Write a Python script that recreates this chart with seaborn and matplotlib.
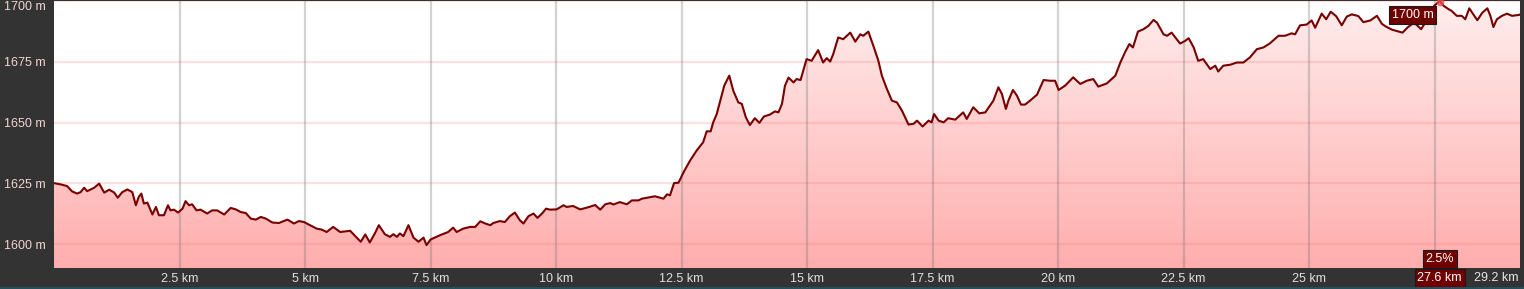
import numpy as np
import matplotlib
matplotlib.use("Agg")
import matplotlib.pyplot as plt
import seaborn as sns
from matplotlib.patches import Polygon, Rectangle

distance_km = [
    0.00, 0.13, 0.26, 0.36, 0.46, 0.53, 0.60, 0.66, 0.80, 0.90, 1.00, 1.10, 1.20, 1.27, 1.36, 1.46,
    1.56, 1.63, 1.69, 1.74, 1.79, 1.86, 1.96, 2.03, 2.09, 2.19, 2.27, 2.32, 2.39, 2.47, 2.56, 2.62,
    2.69, 2.75, 2.84, 2.92, 3.05, 3.15, 3.25, 3.39, 3.52, 3.62, 3.72, 3.82, 3.92, 4.02, 4.12, 4.22,
    4.35, 4.48, 4.65, 4.78, 4.88, 4.98, 5.10, 5.23, 5.33, 5.43, 5.56, 5.70, 5.90, 6.00, 6.11, 6.20,
    6.29, 6.39, 6.47, 6.59, 6.69, 6.76, 6.83, 6.89, 6.96, 7.06, 7.16, 7.26, 7.36, 7.42, 7.50, 7.69,
    7.85, 7.95, 8.02, 8.15, 8.29, 8.39, 8.49, 8.59, 8.69, 8.75, 8.88, 8.98, 9.08, 9.18, 9.28, 9.35,
    9.45, 9.55, 9.63, 9.72, 9.80, 9.88, 10.01, 10.15, 10.21, 10.34, 10.48, 10.61, 10.78, 10.88, 10.98,
    11.08, 11.14, 11.27, 11.41, 11.51, 11.64, 11.71, 11.81, 11.97, 12.14, 12.21, 12.27, 12.35, 12.44,
    12.54, 12.67, 12.80, 12.93, 13.00, 13.08, 13.13, 13.20, 13.27, 13.35, 13.45, 13.53, 13.63, 13.70,
    13.78, 13.86, 13.96, 14.05, 14.14, 14.26, 14.36, 14.43, 14.50, 14.56, 14.63, 14.73, 14.79, 14.87,
    14.99, 15.09, 15.22, 15.32, 15.39, 15.46, 15.52, 15.62, 15.72, 15.86, 15.96, 16.06, 16.12, 16.22,
    16.32, 16.42, 16.49, 16.59, 16.69, 16.79, 16.89, 17.02, 17.12, 17.19, 17.30, 17.42, 17.48, 17.53,
    17.62, 17.72, 17.81, 17.95, 18.11, 18.18, 18.31, 18.43, 18.55, 18.71, 18.81, 18.88, 18.96, 19.01,
    19.10, 19.18, 19.26, 19.34, 19.44, 19.58, 19.71, 19.84, 19.94, 20.01, 20.14, 20.30, 20.44, 20.57,
    20.70, 20.80, 20.97, 21.14, 21.24, 21.33, 21.42, 21.49, 21.59, 21.70, 21.80, 21.90, 21.97, 22.10,
    22.17, 22.26, 22.43, 22.53, 22.60, 22.70, 22.79, 22.89, 23.03, 23.13, 23.19, 23.29, 23.43, 23.56,
    23.69, 23.82, 23.96, 24.09, 24.22, 24.39, 24.52, 24.65, 24.72, 24.82, 24.95, 25.05, 25.12, 25.25,
    25.34, 25.43, 25.54, 25.65, 25.75, 25.85, 25.98, 26.08, 26.22, 26.35, 26.45, 26.52, 26.65, 26.86,
    26.96, 27.06, 27.13, 27.23, 27.30, 27.41, 27.49, 27.60, 27.68, 27.78, 27.84, 27.94, 28.04, 28.11,
    28.19, 28.27, 28.35, 28.45, 28.55, 28.61, 28.67, 28.74, 28.84, 28.94, 29.04, 29.19, 29.20,
]
elevation_m = [
    1625.1, 1624.6, 1623.9, 1621.7, 1620.8, 1621.4, 1623.2, 1621.8, 1623.2, 1624.9, 1621.2, 1622.4,
    1621.2, 1619.1, 1621.4, 1622.5, 1621.4, 1616.0, 1619.5, 1620.8, 1616.7, 1617.1, 1612.2, 1615.3,
    1611.9, 1611.9, 1616.0, 1613.9, 1614.2, 1613.0, 1614.6, 1617.7, 1616.0, 1616.4, 1613.9, 1614.2,
    1612.6, 1613.9, 1613.9, 1612.2, 1614.9, 1614.3, 1613.2, 1612.8, 1610.5, 1610.1, 1611.2, 1610.5,
    1608.9, 1608.7, 1610.1, 1608.5, 1609.5, 1609.1, 1607.8, 1606.4, 1606.0, 1605.0, 1607.1, 1605.0,
    1605.5, 1603.3, 1601.0, 1604.0, 1600.7, 1604.4, 1607.8, 1604.1, 1603.0, 1604.1, 1603.0, 1604.4,
    1603.3, 1607.8, 1602.7, 1601.0, 1602.7, 1599.6, 1601.9, 1603.7, 1605.0, 1606.8, 1605.0, 1606.4,
    1607.1, 1607.1, 1609.4, 1608.5, 1607.8, 1608.7, 1609.5, 1609.1, 1611.5, 1613.0, 1609.8, 1608.5,
    1611.5, 1612.6, 1610.8, 1612.6, 1614.6, 1614.2, 1614.3, 1616.0, 1615.3, 1615.7, 1614.3, 1615.0,
    1616.1, 1614.2, 1616.4, 1616.9, 1616.3, 1617.3, 1616.4, 1618.0, 1618.0, 1618.7, 1619.1, 1619.7,
    1618.7, 1620.5, 1620.1, 1625.1, 1625.3, 1629.6, 1634.4, 1638.5, 1641.9, 1646.4, 1646.4, 1650.1,
    1653.5, 1659.0, 1665.2, 1669.3, 1663.1, 1658.3, 1657.7, 1652.2, 1649.0, 1651.8, 1649.9, 1652.5,
    1653.3, 1654.6, 1654.2, 1657.7, 1665.2, 1668.5, 1666.5, 1667.9, 1667.5, 1676.1, 1675.4, 1679.8,
    1674.7, 1676.5, 1675.1, 1678.1, 1685.0, 1684.3, 1687.0, 1683.3, 1686.3, 1685.7, 1687.4, 1681.6,
    1675.4, 1669.3, 1663.8, 1659.0, 1658.3, 1654.9, 1649.2, 1649.5, 1650.8, 1648.4, 1650.8, 1650.1,
    1653.5, 1650.8, 1650.1, 1651.8, 1651.2, 1654.2, 1651.5, 1656.3, 1653.8, 1654.2, 1659.0, 1664.5,
    1661.8, 1655.6, 1659.0, 1663.4, 1661.1, 1657.4, 1657.4, 1659.0, 1661.5, 1667.5, 1667.2, 1667.2,
    1663.4, 1665.2, 1668.6, 1665.9, 1667.2, 1667.9, 1664.8, 1666.1, 1669.3, 1674.7, 1678.8, 1682.3,
    1680.9, 1687.4, 1688.4, 1689.8, 1692.2, 1691.1, 1686.3, 1685.7, 1687.0, 1682.5, 1683.6, 1684.7,
    1680.9, 1675.4, 1676.1, 1672.0, 1673.4, 1671.0, 1673.4, 1673.8, 1674.7, 1674.7, 1676.8, 1680.2,
    1680.9, 1682.6, 1685.7, 1685.7, 1686.7, 1686.3, 1690.0, 1690.3, 1692.0, 1689.0, 1694.8, 1692.5,
    1695.6, 1693.7, 1690.0, 1693.6, 1694.5, 1693.8, 1691.3, 1692.0, 1693.9, 1690.6, 1689.6, 1688.2,
    1687.0, 1689.1, 1690.7, 1690.4, 1688.4, 1690.7, 1695.5, 1698.0, 1700.0, 1698.0, 1696.6, 1695.9,
    1693.9, 1693.9, 1692.5, 1697.0, 1694.5, 1692.1, 1695.2, 1697.0, 1693.9, 1689.3, 1692.5, 1693.9,
    1694.8, 1693.9, 1694.3, 1694.5,
]

y_ticks = [1600, 1625, 1650, 1675, 1700]
y_tick_labels = ["1600 m", "1625 m", "1650 m", "1675 m", "1700 m"]
x_ticks = [2.5, 5, 7.5, 10, 12.5, 15, 17.5, 20, 22.5, 25]
x_tick_labels = ["2.5 km", "5 km", "7.5 km", "10 km", "12.5 km", "15 km",
                 "17.5 km", "20 km", "22.5 km", "25 km"]
x_grid_extra = [27.5]
x_max = 29.2
x_max_label = "29.2 km"
cursor_km = 27.6
cursor_elev = 1700
cursor_km_label = "27.6 km"
cursor_elev_label = "1700 m"
cursor_grade_label = "2.5%"

W, H = 1524, 289
sns.set_theme(style="white")
plt.rcParams['font.family'] = ['Liberation Sans', 'DejaVu Sans']

fig = plt.figure(figsize=(W / 100, H / 100), dpi=100, facecolor='#333333')
ax = fig.add_axes([54 / W, 21 / H, 1466 / W, 267 / H])
ax.set_facecolor('white')
y_lo, y_hi = 1590.2, 1699.6
ax.set_xlim(0, x_max)
ax.set_ylim(y_lo, y_hi)
for s in ax.spines.values():
    s.set_visible(False)

# gradient fill under the profile
grad = np.linspace(0, 1, 256)[:, None, None]
top_c = np.array([1.0, 0.93, 0.93])
bot_c = np.array([1.0, 0.68, 0.68])
img = top_c + (bot_c - top_c) * grad
img = np.repeat(img, 2, axis=1)
im = ax.imshow(img, extent=[0, x_max, y_lo, y_hi], aspect='auto', origin='upper', zorder=1)
verts = [(distance_km[0], y_lo)] + list(zip(distance_km, elevation_m)) + [(distance_km[-1], y_lo)]
clip = Polygon(verts, closed=True, facecolor='none', edgecolor='none')
ax.add_patch(clip)
im.set_clip_path(clip)

# grid
for yv in y_ticks:
    ax.axhline(yv, color=(1.0, 0.45, 0.45, 0.22), lw=1.6, zorder=2)
for xv in x_ticks + x_grid_extra:
    ax.axvline(xv, color=(0.45, 0.45, 0.45, 0.32), lw=1.6, zorder=2)

sns.lineplot(x=distance_km, y=elevation_m, color='#780000', lw=1.5, estimator=None,
             ax=ax, zorder=4)

ax.scatter([cursor_km], [cursor_elev - 0.5], s=30, color='#e85050', alpha=0.8, zorder=5,
           clip_on=False, linewidths=0)

# ticks
fs = 9
ax.set_yticks(y_ticks)
ax.set_yticklabels(y_tick_labels)
ax.tick_params(axis='y', length=0, pad=50 * 0.72, labelsize=fs, labelcolor='#f2d4d4')
for lbl in ax.get_yticklabels():
    lbl.set_ha('left')
ax.get_yticklabels()[-1].set_va('top')

ax.set_xticks(x_ticks)
ax.set_xticklabels(x_tick_labels)
ax.tick_params(axis='x', length=0, pad=3.5, labelsize=fs, labelcolor='#e0e0e0')

xlab_y = -10 / 267
ax.text(x_max - 0.02, xlab_y, x_max_label, transform=ax.get_xaxis_transform(), ha='right',
        va='center', fontsize=fs, color='#e8e8e8', clip_on=False)

box = dict(boxstyle='square,pad=0.22', facecolor='#700000', edgecolor='#1a1a1a', lw=0.8)
ax.text(cursor_km, xlab_y, cursor_km_label, transform=ax.get_xaxis_transform(), ha='center',
        va='center', fontsize=fs, color='white', bbox=box, clip_on=False, zorder=6)
ax.text(cursor_km, 9 / 267, cursor_grade_label, transform=ax.get_xaxis_transform(), ha='center',
        va='center', fontsize=fs, color='white', bbox=box, clip_on=False, zorder=6)
ax.text(cursor_km - 0.12, 1694.2, cursor_elev_label, ha='right', va='center', fontsize=fs,
        color='white', bbox=box, clip_on=False, zorder=6)

fig.patches.append(Rectangle((0, 0), 1, 2.5 / H, transform=fig.transFigure,
                             facecolor='#24505e', edgecolor='none'))

fig.savefig('out.png', dpi=100, facecolor=fig.get_facecolor())
